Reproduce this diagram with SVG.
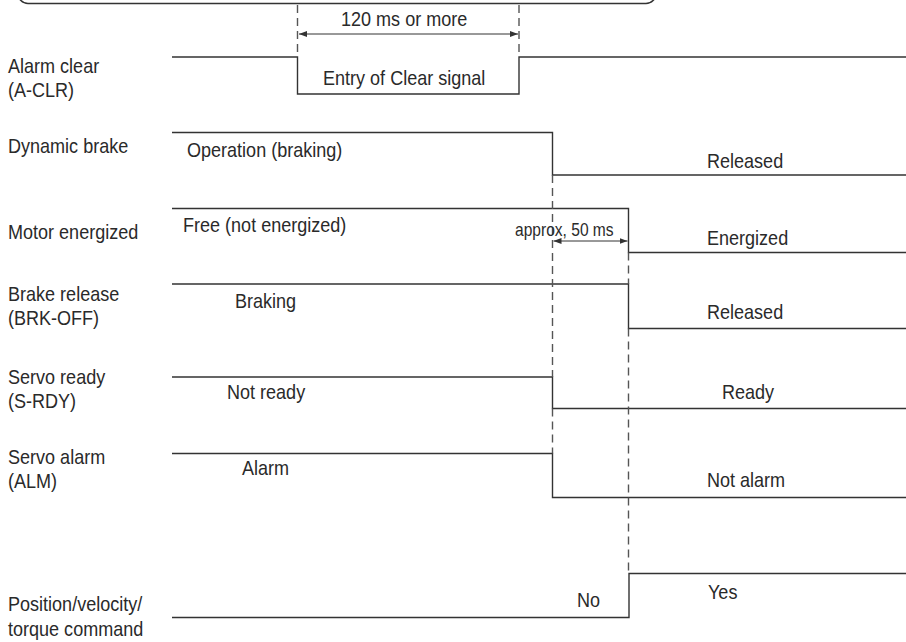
<svg xmlns="http://www.w3.org/2000/svg" width="906" height="642" viewBox="0 0 906 642">
<defs>
<style>
text{font-family:"Liberation Sans",Arial,sans-serif;font-size:20.5px;fill:#2a2a2a;transform-box:fill-box;transform-origin:0 50%;transform:scaleX(0.88)}
.sig{fill:none;stroke:#333;stroke-width:1.4}
.dash{fill:none;stroke:#555;stroke-width:1.4;stroke-dasharray:8 5}
.dim{fill:none;stroke:#333;stroke-width:1}
text.small{font-size:17.7px}
</style>
<marker id="ah" viewBox="0 0 8 6" refX="8" refY="3" markerWidth="8" markerHeight="6" markerUnits="userSpaceOnUse" orient="auto-start-reverse">
<path d="M0,0 L8,3 L0,6 Z" fill="#333"/>
</marker>
</defs>
<rect width="906" height="642" fill="#fff"/>
<rect id="title-box" x="18" y="-30" width="638" height="33.5" rx="10" fill="none" stroke="#333" stroke-width="1.5"/>
<g id="alarm-clear">
<text x="8" y="73">Alarm clear</text>
<text x="8" y="97">(A-CLR)</text>
<polyline class="sig" points="172,57 297.5,57 297.5,94 519,94 519,57 906,57"/>
<text x="323" y="85">Entry of Clear signal</text>
</g>
<g id="dynamic-brake">
<text x="8" y="153">Dynamic brake</text>
<polyline class="sig" points="172,132.5 552.5,132.5 552.5,175 906,175"/>
<text x="187" y="157">Operation (braking)</text>
<text x="707" y="168">Released</text>
</g>
<g id="motor-energized">
<text x="8" y="239">Motor energized</text>
<polyline class="sig" points="172,208.5 628.5,208.5 628.5,252.5 906,252.5"/>
<text x="183" y="232">Free (not energized)</text>
<text x="707" y="245">Energized</text>
</g>
<g id="brake-release">
<text x="8" y="301">Brake release</text>
<text x="8" y="325">(BRK-OFF)</text>
<polyline class="sig" points="172,284 628.5,284 628.5,328.5 906,328.5"/>
<text x="235" y="308">Braking</text>
<text x="707" y="319">Released</text>
</g>
<g id="servo-ready">
<text x="8" y="384">Servo ready</text>
<text x="8" y="408">(S-RDY)</text>
<polyline class="sig" points="172,377 552.5,377 552.5,408.5 906,408.5"/>
<text x="227" y="399">Not ready</text>
<text x="722" y="399">Ready</text>
</g>
<g id="servo-alarm">
<text x="8" y="464">Servo alarm</text>
<text x="8" y="488">(ALM)</text>
<polyline class="sig" points="172,453.5 552.5,453.5 552.5,497.5 906,497.5"/>
<text x="242" y="475">Alarm</text>
<text x="707" y="487">Not alarm</text>
</g>
<g id="position-command">
<text x="8" y="611">Position/velocity/</text>
<text x="8" y="636">torque command</text>
<polyline class="sig" points="172,617.5 629,617.5 629,573.5 906,573.5"/>
<text x="577" y="607">No</text>
<text x="708" y="599">Yes</text>
</g>
<g id="connectors">
<line class="dash" x1="297.5" y1="5" x2="297.5" y2="57"/>
<line class="dash" x1="519" y1="5" x2="519" y2="57"/>
<line class="dim" x1="299" y1="34" x2="518" y2="34" marker-start="url(#ah)" marker-end="url(#ah)"/>
<text x="341" y="26">120 ms or more</text>
<line class="dash" x1="552.5" y1="175" x2="552.5" y2="377"/>
<line class="dash" x1="552.5" y1="408.5" x2="552.5" y2="453.5"/>
<line class="dash" x1="628.5" y1="252.5" x2="628.5" y2="284"/>
<line class="dash" x1="628.5" y1="328.5" x2="628.5" y2="573.5"/>
<line class="dim" x1="553.5" y1="241" x2="627.5" y2="241" marker-start="url(#ah)" marker-end="url(#ah)"/>
<text class="small" x="515" y="236">approx, 50 ms</text>
</g>
</svg>
